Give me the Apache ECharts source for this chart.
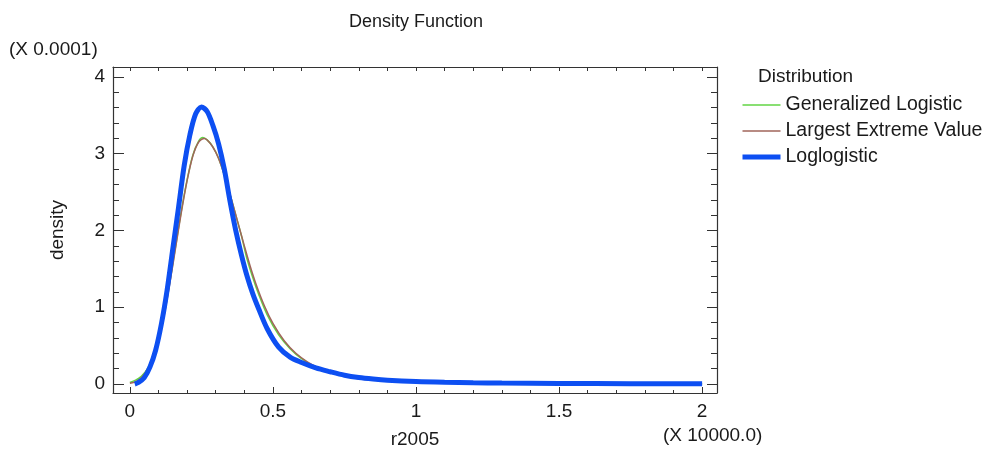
<!DOCTYPE html>
<html>
<head>
<meta charset="utf-8">
<script src="https://cdn.jsdelivr.net/npm/echarts@6/dist/echarts.min.js"></script>
<style>
html,body{margin:0;padding:0;background:#fff;}
#chart{width:992px;height:454px;}
</style>
</head>
<body>
<div id="chart"></div>
<script>
// ---- data (x in units of 10000, density in units of 0.0001) ----
const seriesNames = ['Generalized Logistic', 'Largest Extreme Value', 'Loglogistic'];

const genLogX = [0, 0.02, 0.04, 0.06, 0.08, 0.10, 0.12, 0.14, 0.16, 0.18, 0.20, 0.22, 0.24, 0.255, 0.27, 0.29, 0.31, 0.33, 0.35, 0.37, 0.39, 0.41, 0.43, 0.45, 0.48, 0.52, 0.56, 0.60, 0.65, 0.70, 0.75, 0.80, 0.85, 0.90, 1.00, 1.10, 1.20, 1.30, 1.50, 1.75, 2.00];
const genLogY = [0.02, 0.05, 0.10, 0.19, 0.35, 0.58, 0.92, 1.34, 1.80, 2.26, 2.66, 2.98, 3.16, 3.21, 3.18, 3.09, 2.94, 2.72, 2.47, 2.20, 1.93, 1.62, 1.38, 1.17, 0.90, 0.64, 0.46, 0.33, 0.22, 0.155, 0.11, 0.08, 0.062, 0.048, 0.030, 0.020, 0.014, 0.010, 0.006, 0.004, 0.002];

const levX = [0, 0.02, 0.04, 0.06, 0.08, 0.10, 0.12, 0.14, 0.16, 0.18, 0.20, 0.22, 0.24, 0.26, 0.28, 0.30, 0.32, 0.34, 0.36, 0.38, 0.40, 0.42, 0.44, 0.47, 0.50, 0.54, 0.58, 0.62, 0.66, 0.70, 0.75, 0.80, 0.90, 1.00, 1.10, 1.20, 1.30, 1.50, 1.75, 2.00];
const levY = [0.01, 0.03, 0.08, 0.18, 0.34, 0.57, 0.90, 1.32, 1.78, 2.24, 2.65, 2.97, 3.15, 3.20, 3.14, 3.02, 2.84, 2.60, 2.34, 2.07, 1.80, 1.54, 1.31, 1.02, 0.79, 0.56, 0.40, 0.29, 0.21, 0.15, 0.10, 0.07, 0.04, 0.025, 0.016, 0.010, 0.007, 0.004, 0.002, 0.001];

const logLogX = [0.017, 0.03, 0.05, 0.07, 0.09, 0.11, 0.13, 0.15, 0.17, 0.19, 0.21, 0.23, 0.25, 0.27, 0.29, 0.31, 0.33, 0.35, 0.37, 0.39, 0.41, 0.43, 0.45, 0.48, 0.52, 0.56, 0.60, 0.65, 0.70, 0.75, 0.80, 0.85, 0.90, 1.00, 1.10, 1.20, 1.30, 1.50, 1.75, 2.00];
const logLogY = [0.00, 0.02, 0.08, 0.22, 0.44, 0.78, 1.22, 1.76, 2.30, 2.85, 3.25, 3.52, 3.61, 3.55, 3.37, 3.13, 2.80, 2.38, 2.00, 1.68, 1.40, 1.17, 0.98, 0.72, 0.48, 0.35, 0.28, 0.21, 0.16, 0.115, 0.085, 0.065, 0.05, 0.032, 0.022, 0.016, 0.012, 0.008, 0.005, 0.003];

// ---- ticks / labels ----
const xLabelValues = [0, 0.5, 1, 1.5, 2];
const xMinorTicks = [0, 0.1, 0.2, 0.3, 0.4, 0.5, 0.6, 0.7, 0.8, 0.9, 1.0, 1.1, 1.2, 1.3, 1.4, 1.5, 1.6, 1.7, 1.8, 1.9, 2.0];
const yLabelValues = [0, 1, 2, 3, 4];
const yMinorTicks = [0, 0.2, 0.4, 0.6, 0.8, 1.0, 1.2, 1.4, 1.6, 1.8, 2.0, 2.2, 2.4, 2.6, 2.8, 3.0, 3.2, 3.4, 3.6, 3.8, 4.0];

const X_MIN = -0.059, X_MAX = 2.052, Y_MIN = -0.117, Y_MAX = 4.13;

const pairs = (xs, ys) => xs.map((x, i) => [x, ys[i]]);
const FONT = 'Liberation Sans, Arial, sans-serif';
const axisColor = '#333';
const textColor = '#1a1a1a';
const colors = ['#62d444', '#a0645a', '#0d4ff2'];
const widths = [1.5, 1.5, 5];

function xAx(pos, showLine, ticks, len, labels, extra) {
  return Object.assign({
    type: 'value', position: pos, min: X_MIN, max: X_MAX, gridIndex: 0,
    axisLine: { show: showLine, onZero: false, lineStyle: { color: axisColor, width: 1.2 } },
    axisTick: { show: true, inside: true, length: len, customValues: ticks, lineStyle: { color: axisColor, width: 1 } },
    axisLabel: labels ? { show: true, customValues: labels, fontSize: 19, color: textColor, fontFamily: FONT, margin: 9 } : { show: false },
    splitLine: { show: false }
  }, extra || {});
}
function yAx(pos, showLine, ticks, len, labels, extra) {
  return Object.assign({
    type: 'value', position: pos, min: Y_MIN, max: Y_MAX, gridIndex: 0,
    axisLine: { show: showLine, onZero: false, lineStyle: { color: axisColor, width: 1.2 } },
    axisTick: { show: true, inside: true, length: len, customValues: ticks, lineStyle: { color: axisColor, width: 1 } },
    axisLabel: labels ? { show: true, customValues: labels, fontSize: 19, color: textColor, fontFamily: FONT, margin: 8 } : { show: false },
    splitLine: { show: false }
  }, extra || {});
}

const chart = echarts.init(document.getElementById('chart'), null, { renderer: 'canvas' });
chart.setOption({
  animation: false,
  backgroundColor: '#ffffff',
  title: [
    { text: 'Density Function', left: 416, top: 13, textAlign: 'center', padding: 0,
      textStyle: { fontSize: 18, fontWeight: 'normal', color: textColor, fontFamily: FONT } },
    { text: '(X 0.0001)', left: 9, top: 40, padding: 0,
      textStyle: { fontSize: 19, fontWeight: 'normal', color: textColor, fontFamily: FONT } },
    { text: '(X 10000.0)', left: 663, top: 426, padding: 0,
      textStyle: { fontSize: 19, fontWeight: 'normal', color: textColor, fontFamily: FONT } },
    { text: 'Distribution', left: 758, top: 67, padding: 0,
      textStyle: { fontSize: 19, fontWeight: 'normal', color: textColor, fontFamily: FONT } }
  ],
  legend: {
    orient: 'vertical', left: 740, top: 95, padding: 0,
    itemWidth: 38, itemHeight: 14, itemGap: 6,
    itemStyle: { opacity: 0 },
    textStyle: { fontSize: 19.5, color: textColor, fontFamily: FONT },
    data: seriesNames.map((n, i) => ({ name: n, lineStyle: { width: widths[i], color: colors[i] } }))
  },
  grid: { left: 113, top: 67, right: 275, bottom: 60, containLabel: false },
  xAxis: [
    xAx('bottom', true, xLabelValues, 6, xLabelValues,
      { name: 'r2005', nameLocation: 'middle', nameGap: 37,
        nameTextStyle: { fontSize: 19, color: textColor, fontFamily: FONT } }),
    xAx('bottom', false, xMinorTicks, 3, null),
    xAx('top', true, xMinorTicks, 4, null)
  ],
  yAxis: [
    yAx('left', true, yLabelValues, 11, yLabelValues,
      { name: 'density', nameLocation: 'middle', nameGap: 46,
        nameTextStyle: { fontSize: 19, color: textColor, fontFamily: FONT } }),
    yAx('left', false, yMinorTicks, 6, null),
    yAx('right', true, yLabelValues, 10, null),
    yAx('right', false, yMinorTicks, 6, null)
  ],
  series: [
    { name: seriesNames[0], type: 'line', xAxisIndex: 0, yAxisIndex: 0, data: pairs(genLogX, genLogY),
      showSymbol: false, symbol: 'none', smooth: 0.3, color: colors[0], lineStyle: { width: widths[0], color: colors[0] } },
    { name: seriesNames[1], type: 'line', xAxisIndex: 0, yAxisIndex: 0, data: pairs(levX, levY),
      showSymbol: false, symbol: 'none', smooth: 0.3, color: colors[1], lineStyle: { width: widths[1], color: colors[1] } },
    { name: seriesNames[2], type: 'line', xAxisIndex: 0, yAxisIndex: 0, data: pairs(logLogX, logLogY),
      showSymbol: false, symbol: 'none', smooth: 0.3, color: colors[2], lineStyle: { width: widths[2], color: colors[2] } }
  ]
});
</script>
</body>
</html>
